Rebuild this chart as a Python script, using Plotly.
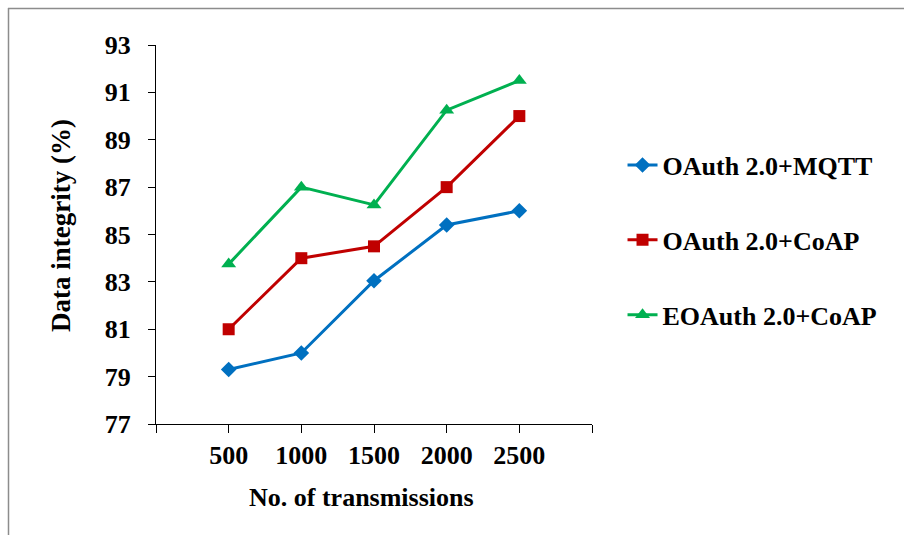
import plotly.graph_objects as go

transmissions = [500, 1000, 1500, 2000, 2500]
oauth_mqtt = [79.3, 80.0, 83.05, 85.4, 86.0]
oauth_coap = [81.0, 84.0, 84.5, 87.0, 90.0]
eoauth_coap = [83.75, 87.0, 86.25, 90.25, 91.5]

x_tickvals = [0, 500, 1000, 1500, 2000, 2500, 3000]
x_ticktext = ["", "500", "1000", "1500", "2000", "2500", ""]
y_tickvals = [77, 79, 81, 83, 85, 87, 89, 91, 93]

series = [
    ("OAuth 2.0+MQTT", oauth_mqtt, "#0070C0", "diamond", 12),
    ("OAuth 2.0+CoAP", oauth_coap, "#C00000", "square", 12),
    ("EOAuth 2.0+CoAP", eoauth_coap, "#00B050", "triangle-up", 13),
]

FONT = "Liberation Serif"
L, R, T, B = 156, 592, 45, 424
W_PLOT, H_PLOT = R - L, B - T


def px_x(px):
    return (px - L) / W_PLOT


def px_y(py):
    return (B - py) / H_PLOT


fig = go.Figure()
for i, (name, vals, color, sym, size) in enumerate(series):
    fig.add_trace(go.Scatter(
        x=transmissions, y=vals, name=name, mode="lines+markers",
        line=dict(color=color, width=3),
        marker=dict(symbol=sym, size=size, color=color),
        legendgroup=f"g{i}",
    ))

fig.update_layout(
    width=904, height=535,
    margin=dict(l=L, r=904 - R, t=T, b=535 - B),
    paper_bgcolor="white", plot_bgcolor="white",
    font=dict(family=FONT, color="black"),
    showlegend=True,
    legend=dict(
        x=1.07, xanchor="left", y=0.745, yanchor="top",
        traceorder="grouped", tracegroupgap=38,
        font=dict(family=FONT, size=26, color="black", weight="bold"),
        bgcolor="rgba(0,0,0,0)",
    ),
    xaxis=dict(
        range=[0, 3000], tickmode="array", tickvals=x_tickvals, ticktext=x_ticktext,
        showline=True, linecolor="black", linewidth=1, showgrid=False, zeroline=False,
        ticks="outside", ticklen=8, tickcolor="black", ticklabelstandoff=0,
        tickfont=dict(family=FONT, size=26, color="black", weight="bold"),
    ),
    yaxis=dict(
        range=[77, 93], tickmode="array", tickvals=y_tickvals,
        showline=True, linecolor="black", linewidth=1, showgrid=False, zeroline=False,
        ticks="outside", ticklen=7, tickcolor="black", ticklabelstandoff=12,
        tickfont=dict(family=FONT, size=26, color="black", weight="bold"),
    ),
    annotations=[
        dict(text="No. of transmissions", xref="paper", yref="paper",
             x=px_x(361), y=px_y(497), xanchor="center", yanchor="middle",
             showarrow=False,
             font=dict(family=FONT, size=26, color="black", weight="bold")),
        dict(text="Data integrity (%)", xref="paper", yref="paper",
             x=px_x(61), y=px_y(226), xanchor="center", yanchor="middle",
             textangle=-90, showarrow=False,
             font=dict(family=FONT, size=27, color="black", weight="bold")),
    ],
    shapes=[
        dict(type="line", xref="paper", yref="paper",
             x0=px_x(8), x1=px_x(904), y0=px_y(8.5), y1=px_y(8.5),
             line=dict(color="#8c8c8c", width=1.5)),
        dict(type="line", xref="paper", yref="paper",
             x0=px_x(8.5), x1=px_x(8.5), y0=px_y(8), y1=px_y(535),
             line=dict(color="#8c8c8c", width=1.5)),
    ],
)

fig.write_html("out.html")
